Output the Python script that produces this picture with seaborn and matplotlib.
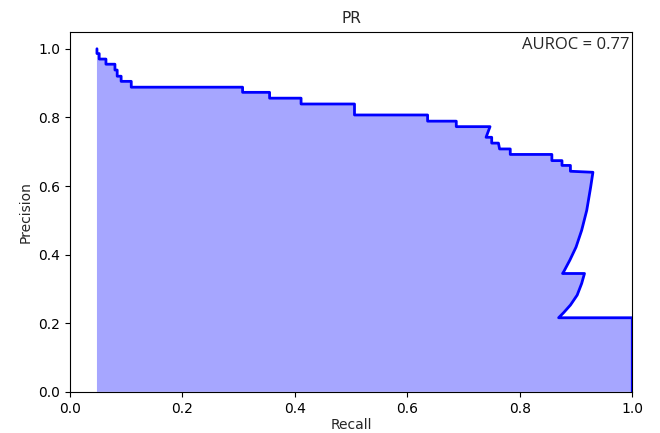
import matplotlib
matplotlib.use("Agg")
import matplotlib.pyplot as plt
import seaborn as sns
import pandas as pd

# PR curve vertices (recall, precision)
recall = [0.048, 0.048, 0.052, 0.052, 0.064, 0.064, 0.080, 0.080, 0.084, 0.084,
          0.091, 0.091, 0.109, 0.109, 0.307, 0.307, 0.355, 0.355, 0.411, 0.411,
          0.506, 0.506, 0.636, 0.636, 0.687, 0.687, 0.747, 0.740, 0.750, 0.750,
          0.762, 0.764, 0.783, 0.783, 0.857, 0.857, 0.875, 0.875, 0.890, 0.890,
          0.930, 0.926, 0.919, 0.910, 0.900, 0.889, 0.878, 0.876,
          0.915, 0.910, 0.902, 0.890, 0.878, 0.869, 1.000, 1.000]
precision = [1.000, 0.986, 0.986, 0.970, 0.970, 0.955, 0.955, 0.938, 0.938, 0.920,
             0.920, 0.905, 0.905, 0.888, 0.888, 0.873, 0.873, 0.856, 0.856, 0.839,
             0.839, 0.807, 0.807, 0.789, 0.789, 0.773, 0.773, 0.742, 0.742, 0.725,
             0.725, 0.708, 0.708, 0.692, 0.692, 0.674, 0.674, 0.660, 0.660, 0.643,
             0.640, 0.597, 0.529, 0.471, 0.422, 0.384, 0.350, 0.345,
             0.345, 0.316, 0.282, 0.253, 0.231, 0.216, 0.216, 0.000]
auroc_label = "AUROC = 0.77"

df = pd.DataFrame({"Recall": recall, "Precision": precision})

sns.set_style("ticks")
plt.rcParams['font.family'] = ['DejaVu Sans']

fig = plt.figure(figsize=(6.6, 4.33), dpi=100)
ax = fig.add_axes([0.106, 0.095, 0.852, 0.832])

# filled region under the curve
poly_x = list(df["Recall"]) + [df["Recall"].iloc[0]]
poly_y = list(df["Precision"]) + [0.0]
ax.fill(poly_x, poly_y, color="blue", alpha=0.35, lw=0)

sns.lineplot(data=df, x="Recall", y="Precision", sort=False, estimator=None,
             color="blue", lw=2, ax=ax)

ax.set_xlim(0, 1)
ax.set_ylim(0, 1.05)
ax.set_title("PR", fontsize=11)
ax.set_xlabel("Recall", fontsize=10, labelpad=2)
ax.set_ylabel("Precision", fontsize=10)
ax.tick_params(labelsize=10, colors="black")
for s in ax.spines.values():
    s.set_color("black")
    s.set_linewidth(0.8)

ax.text(0.995, 0.985, auroc_label, transform=ax.transAxes, ha="right", va="top",
        fontsize=12, family=["Open Sans", "DejaVu Sans"])

fig.savefig("out.png", dpi=100)
